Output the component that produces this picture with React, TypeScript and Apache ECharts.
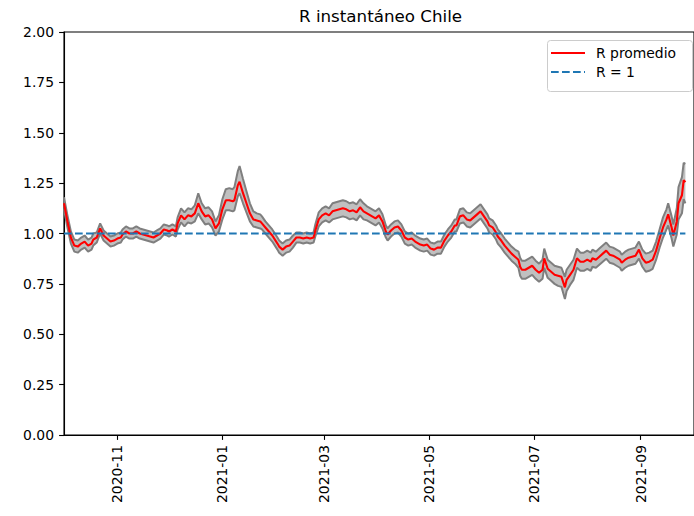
import React, { useEffect, useRef } from "react";
import * as echarts from "echarts";

const dates = [
  "2020-10-01","2020-10-03","2020-10-04","2020-10-05","2020-10-07","2020-10-09","2020-10-11","2020-10-13","2020-10-15","2020-10-17",
  "2020-10-18","2020-10-20","2020-10-22","2020-10-24","2020-10-26","2020-10-28","2020-10-30","2020-11-01","2020-11-03","2020-11-04",
  "2020-11-06","2020-11-08","2020-11-10","2020-11-12","2020-11-14","2020-11-16","2020-11-18","2020-11-20","2020-11-22","2020-11-24",
  "2020-11-26","2020-11-28","2020-11-30","2020-12-01","2020-12-03","2020-12-05","2020-12-06","2020-12-08","2020-12-10","2020-12-12",
  "2020-12-14","2020-12-16","2020-12-18","2020-12-20","2020-12-22","2020-12-24","2020-12-26","2020-12-28","2020-12-30","2021-01-01",
  "2021-01-03","2021-01-05","2021-01-07","2021-01-08","2021-01-10","2021-01-11","2021-01-13","2021-01-15","2021-01-17","2021-01-19",
  "2021-01-21","2021-01-23","2021-01-24","2021-01-26","2021-01-28","2021-01-30","2021-02-02","2021-02-03","2021-02-05","2021-02-07",
  "2021-02-09","2021-02-11","2021-02-13","2021-02-15","2021-02-17","2021-02-19","2021-02-21","2021-02-23","2021-02-24","2021-02-26",
  "2021-02-28","2021-03-02","2021-03-04","2021-03-06","2021-03-08","2021-03-10","2021-03-12","2021-03-14","2021-03-16","2021-03-18",
  "2021-03-20","2021-03-22","2021-03-24","2021-03-26","2021-03-27","2021-03-29","2021-03-31","2021-04-02","2021-04-04","2021-04-06",
  "2021-04-07","2021-04-09","2021-04-11","2021-04-13","2021-04-15","2021-04-17","2021-04-19","2021-04-21","2021-04-23","2021-04-25",
  "2021-04-26","2021-04-28","2021-04-30","2021-05-02","2021-05-04","2021-05-06","2021-05-08","2021-05-10","2021-05-12","2021-05-14",
  "2021-05-16","2021-05-17","2021-05-19","2021-05-21","2021-05-23","2021-05-25","2021-05-27","2021-05-29","2021-05-31","2021-06-02",
  "2021-06-04","2021-06-05","2021-06-07","2021-06-09","2021-06-10","2021-06-12","2021-06-14","2021-06-16","2021-06-18","2021-06-20",
  "2021-06-22","2021-06-23","2021-06-24","2021-06-26","2021-06-28","2021-06-30","2021-07-02","2021-07-04","2021-07-06","2021-07-07",
  "2021-07-09","2021-07-11","2021-07-13","2021-07-15","2021-07-17","2021-07-19","2021-07-20","2021-07-22","2021-07-24","2021-07-26",
  "2021-07-28","2021-07-30","2021-08-01","2021-08-03","2021-08-04","2021-08-06","2021-08-08","2021-08-10","2021-08-12","2021-08-14",
  "2021-08-16","2021-08-18","2021-08-20","2021-08-21","2021-08-23","2021-08-25","2021-08-27","2021-08-29","2021-08-31","2021-09-02",
  "2021-09-04","2021-09-06","2021-09-08","2021-09-10","2021-09-12","2021-09-14","2021-09-16","2021-09-17","2021-09-19","2021-09-20",
  "2021-09-22","2021-09-23","2021-09-25","2021-09-26","2021-09-27"
];

const rMean = [
  1.15,1.06,1.02,0.98,0.94,0.935,0.95,0.96,0.94,0.95,
  0.97,0.98,1.025,0.99,0.975,0.96,0.965,0.975,0.98,0.995,
  1.01,1.0,1.0,1.01,1.0,0.995,0.99,0.985,0.98,0.99,
  1.0,1.02,1.015,1.01,1.02,1.01,1.05,1.09,1.07,1.09,
  1.085,1.10,1.15,1.11,1.085,1.09,1.07,1.025,1.05,1.12,
  1.165,1.165,1.16,1.165,1.24,1.257,1.20,1.15,1.10,1.07,
  1.065,1.06,1.05,1.03,1.01,0.99,0.95,0.935,0.92,0.935,
  0.94,0.96,0.98,0.98,0.975,0.98,0.975,0.98,1.015,1.07,
  1.09,1.10,1.09,1.11,1.115,1.12,1.125,1.12,1.11,1.115,
  1.105,1.13,1.11,1.10,1.095,1.085,1.075,1.09,1.06,1.01,
  0.995,1.015,1.03,1.035,1.015,0.98,0.97,0.975,0.96,0.95,
  0.945,0.94,0.945,0.925,0.92,0.93,0.93,0.965,0.99,1.01,
  1.04,1.04,1.085,1.09,1.07,1.065,1.08,1.095,1.11,1.085,
  1.06,1.04,1.03,1.005,0.985,0.965,0.94,0.92,0.90,0.885,
  0.87,0.835,0.82,0.82,0.83,0.84,0.82,0.805,0.82,0.877,
  0.825,0.81,0.795,0.79,0.785,0.733,0.77,0.795,0.82,0.877,
  0.86,0.86,0.87,0.86,0.877,0.87,0.885,0.90,0.915,0.895,
  0.89,0.88,0.87,0.855,0.87,0.88,0.885,0.89,0.92,0.877,
  0.855,0.86,0.87,0.915,0.975,1.03,1.07,1.095,1.03,0.99,
  1.06,1.15,1.19,1.265,1.255
];

const rLow = [
  1.12,1.03,0.99,0.95,0.91,0.905,0.92,0.93,0.91,0.92,
  0.94,0.955,1.0,0.965,0.95,0.935,0.94,0.95,0.955,0.97,
  0.985,0.975,0.975,0.985,0.975,0.97,0.965,0.96,0.955,0.965,
  0.975,0.995,0.99,0.985,0.995,0.985,1.02,1.055,1.035,1.055,
  1.05,1.06,1.10,1.07,1.045,1.05,1.03,0.99,1.01,1.07,
  1.115,1.115,1.11,1.115,1.185,1.20,1.15,1.105,1.06,1.035,
  1.03,1.025,1.02,1.0,0.98,0.96,0.92,0.905,0.89,0.905,
  0.91,0.93,0.955,0.955,0.95,0.955,0.95,0.955,0.985,1.035,
  1.055,1.065,1.055,1.07,1.075,1.08,1.085,1.08,1.07,1.075,
  1.065,1.09,1.07,1.065,1.06,1.05,1.04,1.055,1.025,0.98,
  0.965,0.985,1.0,1.005,0.985,0.95,0.94,0.945,0.93,0.92,
  0.915,0.91,0.915,0.895,0.89,0.90,0.90,0.935,0.96,0.98,
  1.01,1.01,1.05,1.055,1.035,1.03,1.045,1.06,1.075,1.05,
  1.025,1.005,0.995,0.97,0.95,0.93,0.905,0.885,0.865,0.85,
  0.83,0.79,0.775,0.775,0.785,0.795,0.775,0.76,0.775,0.83,
  0.78,0.765,0.75,0.74,0.735,0.675,0.715,0.745,0.77,0.83,
  0.815,0.815,0.825,0.815,0.835,0.83,0.845,0.86,0.875,0.855,
  0.85,0.84,0.83,0.815,0.83,0.84,0.845,0.85,0.875,0.835,
  0.81,0.815,0.825,0.87,0.93,0.98,1.02,1.04,0.975,0.935,
  0.995,1.07,1.10,1.17,1.15
];

const rHigh = [
  1.18,1.09,1.05,1.01,0.97,0.965,0.98,0.99,0.97,0.98,
  1.0,1.005,1.05,1.015,1.0,0.985,0.99,1.0,1.005,1.02,
  1.035,1.025,1.025,1.035,1.025,1.02,1.015,1.01,1.005,1.015,
  1.025,1.045,1.04,1.035,1.045,1.035,1.08,1.125,1.105,1.125,
  1.12,1.14,1.20,1.15,1.125,1.13,1.11,1.06,1.09,1.17,
  1.22,1.225,1.22,1.23,1.31,1.335,1.27,1.21,1.15,1.11,
  1.10,1.095,1.085,1.06,1.04,1.02,0.98,0.965,0.95,0.965,
  0.97,0.99,1.005,1.005,1.0,1.005,1.0,1.005,1.045,1.105,
  1.125,1.135,1.125,1.15,1.155,1.16,1.165,1.16,1.15,1.155,
  1.145,1.17,1.15,1.135,1.13,1.12,1.11,1.125,1.095,1.04,
  1.025,1.045,1.06,1.065,1.045,1.01,1.0,1.005,0.99,0.98,
  0.975,0.97,0.975,0.955,0.95,0.96,0.96,0.995,1.02,1.04,
  1.07,1.07,1.12,1.125,1.105,1.10,1.115,1.13,1.145,1.12,
  1.095,1.075,1.065,1.04,1.02,1.0,0.975,0.955,0.935,0.92,
  0.91,0.88,0.865,0.865,0.875,0.885,0.865,0.85,0.87,0.925,
  0.87,0.855,0.84,0.835,0.83,0.785,0.82,0.845,0.87,0.925,
  0.905,0.905,0.915,0.905,0.92,0.91,0.925,0.94,0.955,0.935,
  0.93,0.92,0.91,0.895,0.91,0.92,0.925,0.93,0.96,0.92,
  0.90,0.905,0.915,0.96,1.02,1.08,1.12,1.15,1.085,1.045,
  1.125,1.23,1.28,1.35,1.345
];

const xTickDates = ["2020-11-01", "2021-01-01", "2021-03-01", "2021-05-01", "2021-07-01", "2021-09-01"];
const xMin = "2020-10-01";
const xMax = "2021-10-02";
const yTicks = [0, 0.25, 0.5, 0.75, 1.0, 1.25, 1.5, 1.75, 2.0];
const refValue = 1;
const titleText = "R instantáneo Chile";
const legendNames = ["R promedio", "R = 1"];

function toTs(s: string): number {
  const [y, m, d] = s.split("-").map(Number);
  return Date.UTC(y, m - 1, d);
}

const FONT = "DejaVu Sans";

export default function App() {
  const ref = useRef<HTMLDivElement>(null);
  useEffect(() => {
    if (!ref.current) return;
    const chart = echarts.init(ref.current, undefined, { renderer: "svg" });
    const tickTs = xTickDates.map(toTs);
    const bandData = dates.map((d, i) => [toTs(d), rLow[i], rHigh[i]]);
    const lowData = dates.map((d, i) => [toTs(d), rLow[i]]);
    const highData = dates.map((d, i) => [toTs(d), rHigh[i]]);
    const meanData = dates.map((d, i) => [toTs(d), rMean[i]]);
    const refData = [
      [toTs(dates[0]), refValue],
      [toTs(dates[dates.length - 1]), refValue],
    ];
    const option: any = {
      animation: false,
      backgroundColor: "#ffffff",
      grid: {
        left: 64,
        right: -3,
        top: 32,
        bottom: 81,
        show: true,
        borderColor: "#000000",
        borderWidth: 1.1,
        backgroundColor: "transparent",
      },
      xAxis: {
        type: "value",
        min: toTs(xMin),
        max: toTs(xMax),
        scale: true,
        splitLine: { show: false },
        axisLine: { show: true, lineStyle: { color: "#000", width: 1.1 } },
        axisTick: {
          show: true,
          inside: false,
          length: 4.9,
          lineStyle: { color: "#000", width: 1.1 },
          customValues: tickTs,
        },
        axisLabel: {
          customValues: tickTs,
          rotate: 90,
          margin: 10,
          color: "#000",
          fontFamily: FONT,
          fontSize: 13.9,
          hideOverlap: false,
          formatter: (v: number) => {
            const dt = new Date(v);
            const mm = String(dt.getUTCMonth() + 1).padStart(2, "0");
            return `${dt.getUTCFullYear()}-${mm}`;
          },
        },
      },
      yAxis: {
        type: "value",
        min: 0,
        max: 2,
        interval: 0.25,
        splitLine: { show: false },
        axisLine: { show: true, lineStyle: { color: "#000", width: 1.1 } },
        axisTick: { show: true, inside: false, length: 4.9, lineStyle: { color: "#000", width: 1.1 } },
        axisLabel: {
          margin: 10,
          color: "#000",
          fontFamily: FONT,
          fontSize: 13.9,
          showMinLabel: true,
          showMaxLabel: true,
          formatter: (v: number) => (yTicks.includes(+v.toFixed(2)) ? v.toFixed(2) : ""),
        },
      },
      series: [
        {
          type: "custom",
          name: "band",
          data: bandData,
          encode: { x: 0, y: [1, 2] },
          z: 1,
          silent: true,
          renderItem: (params: any, api: any) => {
            if (params.dataIndex !== 0) return null;
            const upper = bandData.map((p) => api.coord([p[0], p[2]]));
            const lower = bandData.map((p) => api.coord([p[0], p[1]])).reverse();
            return {
              type: "polygon",
              shape: { points: upper.concat(lower) },
              style: { fill: "#c0c0c0", stroke: "none" },
            };
          },
        },
        {
          type: "line",
          name: "low",
          data: lowData,
          symbol: "none",
          z: 2,
          lineStyle: { color: "#7f7f7f", width: 2 },
        },
        {
          type: "line",
          name: "high",
          data: highData,
          symbol: "none",
          z: 2,
          lineStyle: { color: "#7f7f7f", width: 2 },
        },
        {
          type: "line",
          name: legendNames[0],
          data: meanData,
          symbol: "none",
          z: 3,
          lineStyle: { color: "#ff0000", width: 2.1 },
        },
        {
          type: "line",
          name: legendNames[1],
          data: refData,
          symbol: "none",
          z: 4,
          lineStyle: { color: "#1f77b4", width: 2.1, type: [7.7, 3.3] },
        },
      ],
      graphic: [
        {
          type: "text",
          x: 380.5,
          y: 16,
          style: {
            text: titleText,
            fontFamily: FONT,
            fontSize: 16.7,
            fill: "#000",
            textAlign: "center",
            textVerticalAlign: "middle",
          },
        },
        {
          type: "rect",
          z: 10,
          shape: { x: 547.5, y: 40.5, width: 145, height: 51, r: 3 },
          style: { fill: "rgba(255,255,255,0.8)", stroke: "#cccccc", lineWidth: 1 },
        },
        {
          type: "line",
          z: 11,
          shape: { x1: 551, y1: 53, x2: 585, y2: 53 },
          style: { stroke: "#ff0000", lineWidth: 2.1 },
        },
        {
          type: "text",
          z: 11,
          x: 596,
          y: 53,
          style: {
            text: legendNames[0],
            fontFamily: FONT,
            fontSize: 13.9,
            fill: "#000",
            textVerticalAlign: "middle",
          },
        },
        {
          type: "line",
          z: 11,
          shape: { x1: 551, y1: 72, x2: 585, y2: 72 },
          style: { stroke: "#1f77b4", lineWidth: 2.1, lineDash: [7.7, 3.3] },
        },
        {
          type: "text",
          z: 11,
          x: 596,
          y: 72,
          style: {
            text: legendNames[1],
            fontFamily: FONT,
            fontSize: 13.9,
            fill: "#000",
            textVerticalAlign: "middle",
          },
        },
      ],
    };
    chart.setOption(option);
    return () => chart.dispose();
  }, []);
  return (
    <div
      ref={ref}
      style={{ position: "fixed", left: 0, top: 0, width: 694, height: 516, background: "#fff" }}
    />
  );
}
